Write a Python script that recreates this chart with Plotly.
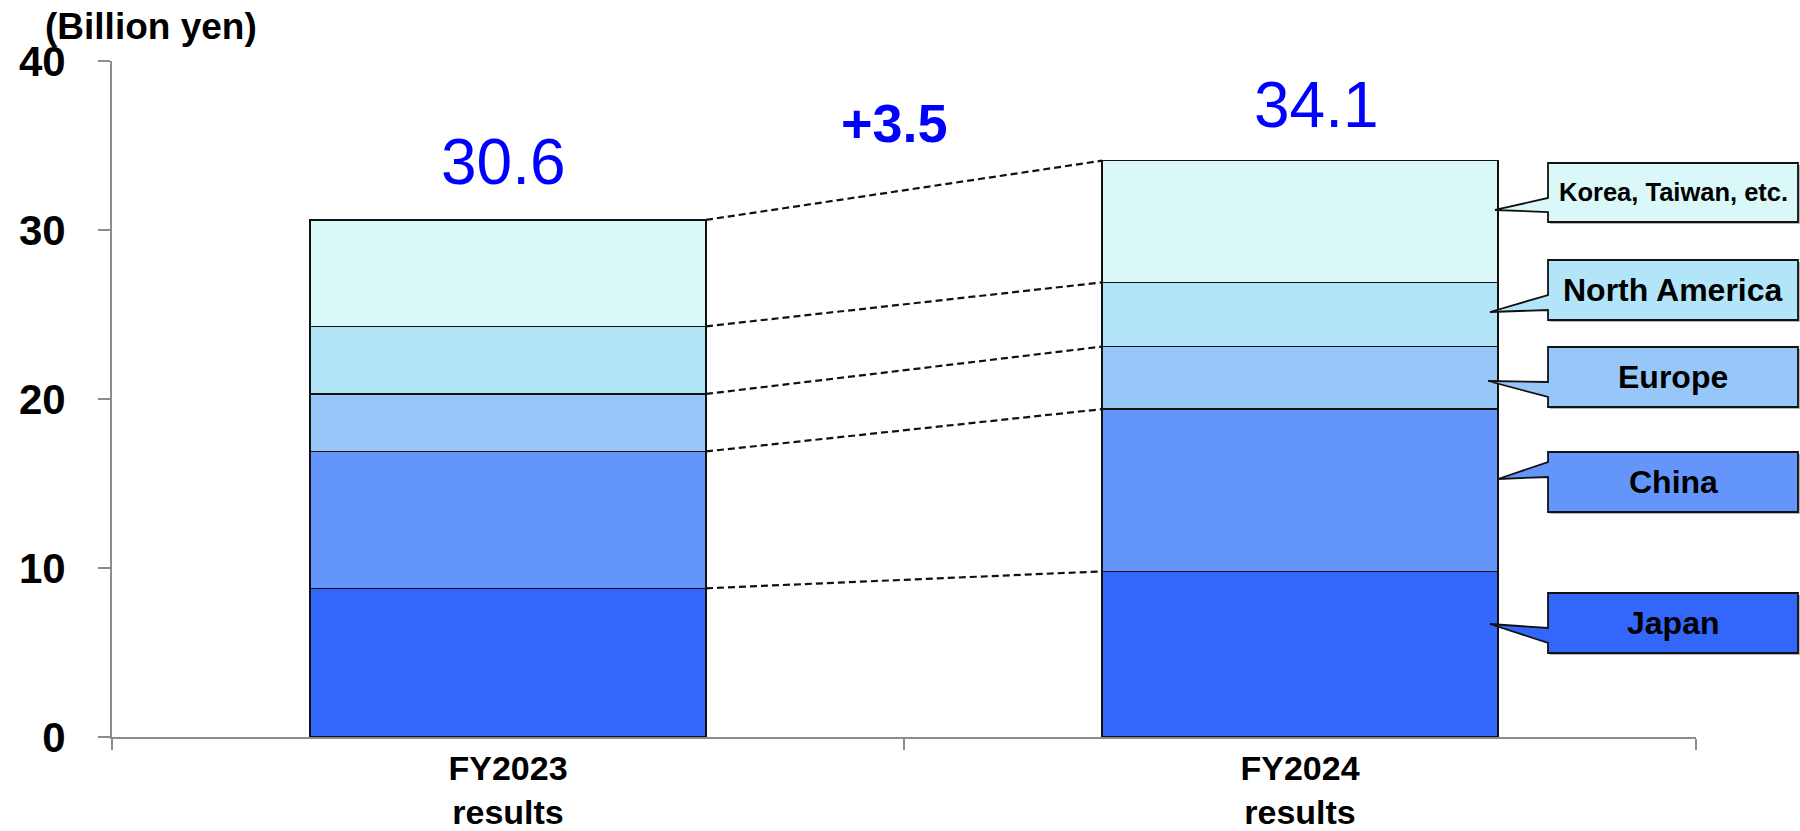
import plotly.graph_objects as go

# ---------------- data ----------------
categories = ["FY2023<br>results", "FY2024<br>results"]
regions = ["Japan", "China", "Europe", "North America", "Korea, Taiwan, etc."]
japan = [8.8, 9.8]
china = [8.1, 9.6]
europe = [3.4, 3.7]
north_america = [4.0, 3.8]
korea_taiwan = [6.3, 7.2]
totals = [30.6, 34.1]
change_label = "+3.5"
y_ticks = [0, 10, 20, 30, 40]
unit_label = "(Billion yen)"

series = [japan, china, europe, north_america, korea_taiwan]
colors = ["#3366FA", "#6495FA", "#97C7F8", "#B3E5F8", "#DBF8F8"]

# ---------------- layout constants (pixels) ----------------
W, H = 1800, 831
ML, MR, MT, MB = 112, 104, 61, 94
PW, PH = W - ML - MR, H - MT - MB
FONT = "Liberation Sans, Arial, sans-serif"
AXIS_GRAY = "#8C8C8C"


def px(xp):
    return (xp - ML) / PW


def py(yp):
    return (H - MB - yp) / PH


xpos = [0, 1]
bar_w = 0.5

fig = go.Figure()
for name, vals, col in zip(regions, series, colors):
    fig.add_trace(go.Bar(
        x=xpos, y=vals, name=name, width=bar_w,
        marker=dict(color=col, line=dict(color="#111111", width=1.5)),
        showlegend=False, hoverinfo="skip",
    ))

# dashed connector lines between stack boundaries
cum = [[0.0, 0.0]]
for vals in series:
    cum.append([round(cum[-1][i] + vals[i], 3) for i in range(2)])
for level in cum[1:]:
    fig.add_trace(go.Scatter(
        x=[xpos[0] + bar_w / 2, xpos[1] - bar_w / 2], y=level,
        mode="lines", line=dict(color="#111111", width=2.2, dash="7px,4px"),
        showlegend=False, hoverinfo="skip",
    ))

annotations = []
# totals above bars
total_shift = [(-5, 58), (16, 56)]
for i, t in enumerate(totals):
    annotations.append(dict(
        x=xpos[i], y=t, xref="x", yref="y", text=f"{t:.1f}", showarrow=False,
        xanchor="center", yanchor="middle",
        xshift=total_shift[i][0], yshift=total_shift[i][1],
        font=dict(family=FONT, size=64, color="#0000FF"),
    ))
# change label
annotations.append(dict(
    x=px(894), y=py(123), xref="paper", yref="paper", text=f"<b>{change_label}</b>",
    showarrow=False, xanchor="center", yanchor="middle",
    font=dict(family=FONT, size=54, color="#0000FF"),
))
# unit label
annotations.append(dict(
    x=px(43), y=py(26), xref="paper", yref="paper", text=f"<b>{unit_label}</b>",
    showarrow=False, xanchor="left", yanchor="middle",
    font=dict(family=FONT, size=37, color="#000000"),
))

# callout boxes (pixel geometry)
box_l, box_r = 1548, 1798
callouts = {
    "Japan": (593, 653, 628, 643, 1490, 624),
    "China": (452, 512, 462, 477, 1498, 479),
    "Europe": (347, 407, 382, 397, 1488, 381),
    "North America": (260, 320, 295, 310, 1490, 312),
    "Korea, Taiwan, etc.": (163, 222, 198, 212, 1495, 210),
}
shapes = []
for name, col in zip(regions, colors):
    top, bot, bt, bb, tx, ty = callouts[name]

    def path(dx=0, dy=0, wedge=True):
        pts = [(box_l, top), (box_r, top), (box_r, bot), (box_l, bot)]
        if wedge:
            pts += [(box_l, bb), (tx, ty), (box_l, bt)]
        pts = [(px(a + dx), py(b + dy)) for a, b in pts]
        return "M " + " L ".join(f"{a:.5f},{b:.5f}" for a, b in pts) + " Z"

    shapes.append(dict(type="path", path=path(2, 2, False), xref="paper", yref="paper",
                       fillcolor="#B5B5B5", line=dict(width=0), layer="above"))
    shapes.append(dict(type="path", path=path(), xref="paper", yref="paper",
                       fillcolor=col, line=dict(color="#111111", width=1.8), layer="above"))
    annotations.append(dict(
        x=px((box_l + box_r) / 2), y=py((top + bot) / 2), xref="paper", yref="paper",
        text=f"<b>{name}</b>", showarrow=False, xanchor="center", yanchor="middle",
        font=dict(family=FONT, size=25.5 if name.startswith("Korea") else 32, color="#000000"),
    ))

fig.update_layout(
    width=W, height=H,
    margin=dict(l=ML, r=MR, t=MT, b=MB, autoexpand=False),
    paper_bgcolor="white", plot_bgcolor="white",
    barmode="stack",
    annotations=annotations, shapes=shapes,
    font=dict(family=FONT, color="#000000"),
    xaxis=dict(
        range=[-0.5, 1.5], tickmode="array", tickvals=xpos, ticktext=categories,
        ticks="", showgrid=False, zeroline=False,
        showline=True, linecolor=AXIS_GRAY, linewidth=2,
        tickfont=dict(family=FONT, size=34, color="#000000", weight="bold"),
        ticklabelstandoff=0,
        minor=dict(tickmode="array", tickvals=[-0.5, 0.5, 1.5], ticks="outside",
                   ticklen=11, tickwidth=1.5, tickcolor=AXIS_GRAY, showgrid=False),
    ),
    yaxis=dict(
        range=[0, 40], tickmode="array", tickvals=y_ticks,
        ticks="outside", ticklen=12, tickwidth=2, tickcolor=AXIS_GRAY,
        showgrid=False, zeroline=False,
        showline=True, linecolor=AXIS_GRAY, linewidth=2,
        tickfont=dict(family=FONT, size=42, color="#000000", weight="bold"),
        ticklabelstandoff=24,
    ),
)

fig.write_html("out.html")
